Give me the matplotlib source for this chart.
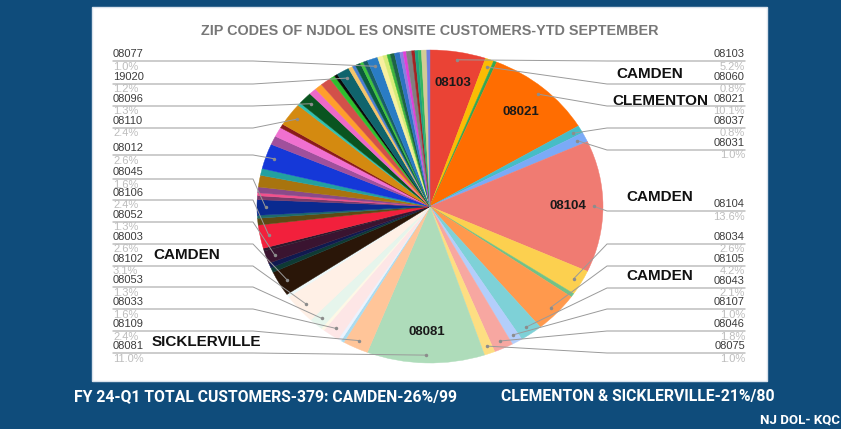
import numpy as np
import matplotlib
matplotlib.use("Agg")
import matplotlib.pyplot as plt
from matplotlib import font_manager
from matplotlib.patches import Rectangle

# slices in clockwise order from 12 o'clock; '' = unlabeled zip
zips = [
    "08103", "08060", "", "08021", "08037", "08031", "08104", "08034", "",
    "08105", "08043", "08107", "08046", "08075", "08081",
    "08109", "", "", "08033", "", "08053", "08102", "", "08003", "", "",
    "08052", "", "08106", "", "", "08045", "", "", "", "", "", "08012",
    "", "", "", "08110", "", "08096", "", "", "", "", "", "19020",
    "", "", "", "", "", "08077", "", "", "", "", "", "", "", "", "", "",
    "", "", "",
]
shares = [
    5.2, 0.8, 0.3, 10.1, 0.8, 1.0, 13.6, 2.6, 0.4,
    4.2, 2.1, 1.0, 1.8, 1.0, 11.0,
    2.4, 0.3, 0.3, 1.6, 0.3, 1.3, 3.1, 0.3, 2.6, 0.5, 0.5,
    1.3, 0.3, 2.4, 0.7, 0.3, 1.6, 0.4, 0.3, 0.6, 1.2, 0.7, 2.6,
    0.9, 1.0, 0.4, 2.4, 0.3, 1.3, 0.7, 0.7, 1.0, 0.5, 0.3, 1.2,
    0.4, 0.3, 0.5, 0.3, 0.4, 1.0, 0.5, 0.4, 0.3, 0.4, 0.5, 0.3, 0.3, 0.5,
    0.3, 0.3, 0.3, 0.5, 0.3,
]
colors = [
    "#EA4335", "#FBBC04", "#34A853", "#FF6D01", "#46BDC6", "#7BAAF7",
    "#F07B72", "#FCD04F", "#71C287", "#FF994D", "#7ED1D7", "#B3CEFB",
    "#F7A7A1", "#FDDE82", "#AEDCBA",
    "#FFC599", "#A9DCF0", "#ECF3FE", "#FDE6E6", "#FEF8E6", "#E6F5EC",
    "#FFF0E6", "#EDF8F9", "#2A1608", "#0E3A34", "#101A50",
    "#3A1430", "#2E1A2E", "#F2203C", "#5E4A14", "#1E6B6B", "#0A2A90",
    "#7A3A6A", "#F0508C", "#8A4A8A", "#A8740E", "#22A0A0", "#1538D8",
    "#A0509C", "#F070D0", "#8A1A1A", "#D48A10", "#30C0B0", "#0A5420",
    "#EE68C8", "#FF9E2C", "#D2504A", "#2EBE2E", "#0A0A0A", "#10646C",
    "#F6C56A", "#4A7ED0", "#0C5A3C", "#3EC43E", "#1A5E66", "#2A7CC4",
    "#F8F0A0", "#D8EC78", "#3CB43C", "#1E6444", "#2E72C2", "#8C7EE0",
    "#E040D8", "#808080", "#A42222", "#1EA080", "#34B460", "#D4CC94",
    "#6E7EE0",
]

title = "ZIP CODES OF NJDOL ES ONSITE CUSTOMERS-YTD SEPTEMBER"
cities = [("CAMDEN", 650, 74), ("CLEMENTON", 660, 101), ("CAMDEN", 660, 197),
          ("CAMDEN", 660, 276), ("CAMDEN", 187, 255), ("SICKLERVILLE", 206, 342)]
footer_left = "FY 24-Q1 TOTAL CUSTOMERS-379: CAMDEN-26%/99"
footer_right = "CLEMENTON & SICKLERVILLE-21%/80"
credit = "NJ DOL- KQC"

W, H = 841, 429
CX, CY, RX, RY = 430, 206.5, 173, 156.5
right_rows = [54, 77, 99, 121, 143, 204, 237, 259, 281, 302, 324, 346]
left_rows = [54, 77, 99, 121, 148, 172, 193, 215, 237, 259, 280, 302, 324, 346]

installed = {f.name for f in font_manager.fontManager.ttflist}
SANS = "Liberation Sans" if "Liberation Sans" in installed else "DejaVu Sans"
FOOT = "Roboto" if "Roboto" in installed else SANS


def ell(theta, r):
    t = np.deg2rad(theta)
    return CX + RX * r * np.cos(t), CY - RY * r * np.sin(t)


fig = plt.figure(figsize=(W / 100, H / 100), dpi=100)
fig.patch.set_facecolor("#0F4C7B")

bg = fig.add_axes([0, 0, 1, 1])
bg.set_xlim(0, W)
bg.set_ylim(H, 0)
bg.axis("off")
bg.add_patch(Rectangle((92, 7), 675, 374, facecolor="white",
                       edgecolor="#d9e2ec", lw=1))

# pie stretched into an ellipse
pax = fig.add_axes([(CX - RX) / W, 1 - (CY + RY) / H, 2 * RX / W, 2 * RY / H])
wedges, _ = pax.pie(shares, colors=colors, startangle=90, counterclock=False,
                    wedgeprops=dict(linewidth=0.3))
for w in wedges:
    w.set_edgecolor(w.get_facecolor())
pax.set_xlim(-1, 1)
pax.set_ylim(-1, 1)
pax.set_aspect("auto")
pax.axis("off")

ov = fig.add_axes([0, 0, 1, 1])
ov.set_xlim(0, W)
ov.set_ylim(H, 0)
ov.axis("off")

total = sum(shares)
right, left = [], []
for i, z in enumerate(zips):
    if not z:
        continue
    w = wedges[i]
    mid = (w.theta1 + w.theta2) / 2
    pct = shares[i] / total * 100
    cw = (90 - mid) % 360
    if pct >= 5:
        tx, ty = ell(mid, 0.8)
        ov.text(tx, ty, z, ha="center", va="center", fontsize=9.5,
                fontweight="bold", color="#1a1a1a", family=SANS)
    (right if cw < 180 else left).append((cw, z, pct, mid))

right.sort()
left.sort(reverse=True)

for rows, items, x0, x1, ha in [(right_rows, right, 745, 607, "right"),
                                (left_rows, left, 113, 253, "left")]:
    for row, (cw, z, pct, mid) in zip(rows, items):
        dx, dy = ell(mid, 0.95)
        ov.text(x0, row, z, ha=ha, va="center", fontsize=8,
                color="#3c3c3c", family=SANS)
        ov.text(x0, row + 12.5, f"{pct:.1f}%", ha=ha, va="center",
                fontsize=8, color="#bdbdbd", family=SANS)
        ov.plot([x0, x1, dx], [row + 7, row + 7, dy], color="#9a9a9a", lw=0.7)
        ov.plot(dx, dy, "o", ms=2.5, color="#8c8c8c", mec="none")

for name, x, y in cities:
    ov.text(x, y, name, ha="center", va="center", fontsize=11,
            fontweight="bold", color="#111111", family=SANS)

ov.text(430, 31, title, ha="center", va="center", fontsize=10.4,
        fontweight="bold", color="#777777", family=SANS)

ov.text(74, 397, footer_left, ha="left", va="center", fontsize=11.3,
        fontweight="bold", color="white", family=FOOT)
ov.text(501, 397, footer_right, ha="left", va="center", fontsize=11.3,
        fontweight="bold", color="white", family=FOOT)
ov.text(840, 420, credit, ha="right", va="center", fontsize=9.5,
        fontweight="bold", color="white", family=FOOT)

fig.savefig("out.png", dpi=100, facecolor=fig.get_facecolor())
